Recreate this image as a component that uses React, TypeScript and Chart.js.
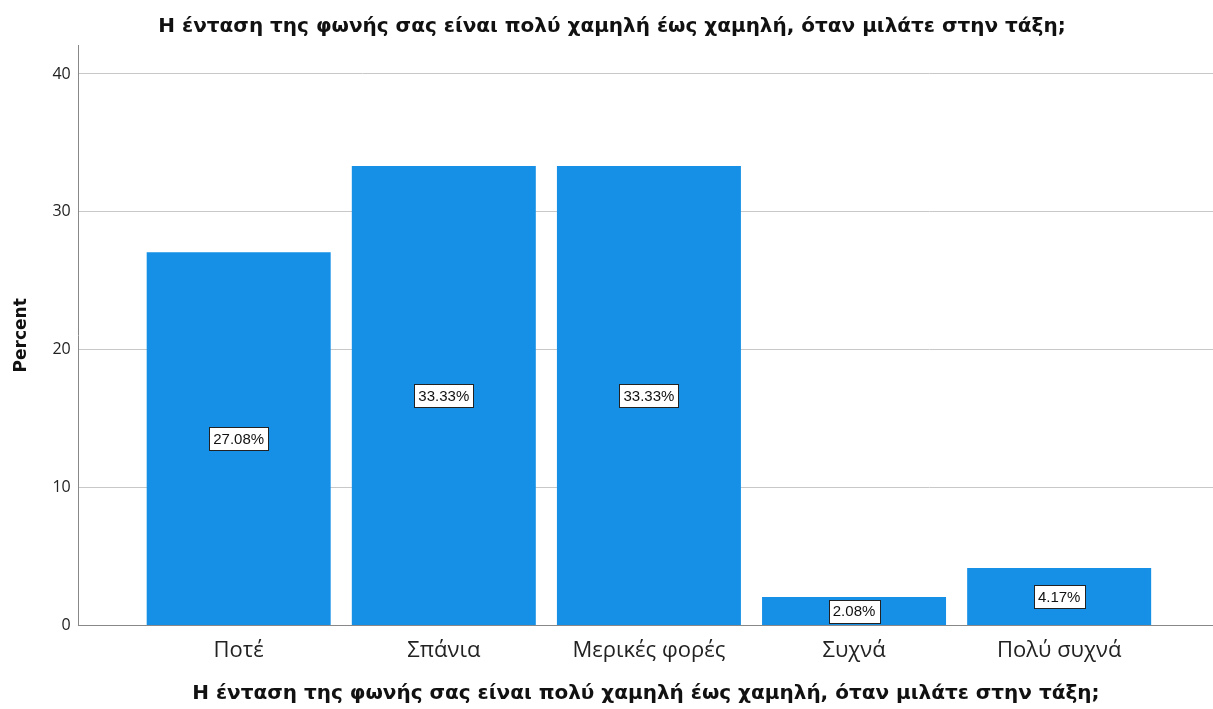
import React, { useEffect, useRef } from "react";
import { Chart, registerables } from "chart.js";

Chart.register(...registerables);

const categories = ["Ποτέ", "Σπάνια", "Μερικές φορές", "Συχνά", "Πολύ συχνά"];
const percents = [27.08, 33.33, 33.33, 2.08, 4.17];
const yTicks = [0, 10, 20, 30, 40];
const titleText = "Η ένταση της φωνής σας είναι πολύ χαμηλή έως χαμηλή, όταν μιλάτε στην τάξη;";

const BOLD = "'DejaVu Sans', Verdana, sans-serif";
const REG = "'Open Sans', 'Noto Sans', sans-serif";
const LAB = "'Liberation Sans', Arial, sans-serif";

const labelPlugin = {
  id: "barLabels",
  afterDatasetsDraw(chart: any) {
    const ctx = chart.ctx;
    const meta = chart.getDatasetMeta(0);
    ctx.save();
    ctx.font = `15px ${LAB}`;
    ctx.textAlign = "center";
    ctx.textBaseline = "middle";
    meta.data.forEach((bar: any, i: number) => {
      const txt = percents[i].toFixed(2) + "%";
      const cx = bar.x;
      const cy = (bar.y + bar.base) / 2;
      const w = Math.round(ctx.measureText(txt).width + 8);
      const h = 23;
      const x0 = Math.round(cx - w / 2);
      const y0 = Math.round(cy - h / 2);
      ctx.fillStyle = "#ffffff";
      ctx.fillRect(x0, y0, w, h);
      ctx.strokeStyle = "#222222";
      ctx.lineWidth = 1;
      ctx.strokeRect(x0 + 0.5, y0 + 0.5, w, h);
      ctx.fillStyle = "#111111";
      ctx.fillText(txt, cx, cy + 1);
    });
    ctx.restore();
  },
};

export default function App() {
  const ref = useRef<HTMLCanvasElement>(null);
  useEffect(() => {
    document.body.style.margin = "0";
    const chart = new Chart(ref.current!, {
      type: "bar",
      data: {
        datasets: [
          {
            data: percents.map((v, i) => ({ x: i, y: v })),
            backgroundColor: "#1590e6",
            borderWidth: 0,
            barPercentage: 0.897,
            categoryPercentage: 1,
          },
        ],
      },
      plugins: [labelPlugin],
      options: {
        animation: false,
        responsive: false,
        layout: { padding: { left: 11, right: 0, top: 4, bottom: 3 } },
        plugins: {
          legend: { display: false },
          tooltip: { enabled: false },
          title: {
            display: true,
            text: titleText,
            color: "#111111",
            font: { family: BOLD, size: 20, weight: "bold" },
            padding: { top: 11, bottom: 6 },
          },
        },
        scales: {
          x: {
            type: "linear",
            offset: false,
            min: -0.78,
            max: 4.75,
            afterBuildTicks: (scale: any) => {
              scale.ticks = categories.map((_, i) => ({ value: i }));
            },
            ticks: {
              autoSkip: false,
              maxRotation: 0,
              color: "#222222",
              font: { family: REG, size: 22 },
              padding: 12,
              callback: (v: any) => categories[v as number] ?? "",
            },
            grid: { display: false, drawTicks: false, offset: false },
            border: { display: true, color: "#888888", width: 1 },
            title: {
              display: true,
              text: titleText,
              color: "#111111",
              font: { family: BOLD, size: 20, weight: "bold" },
              padding: { top: 6, bottom: 0 },
            },
          },
          y: {
            min: 0,
            max: 42.1,
            afterBuildTicks: (scale: any) => {
              scale.ticks = yTicks.map((v) => ({ value: v }));
            },
            ticks: {
              color: "#222222",
              font: { family: REG, size: 16 },
              padding: 8,
            },
            grid: { color: "#c8c8c8", drawTicks: false, lineWidth: 1 },
            border: { display: true, color: "#888888", width: 1 },
            title: {
              display: true,
              text: "Percent",
              color: "#111111",
              font: { family: BOLD, size: 17, weight: "bold" },
              padding: { top: 0, bottom: 13 },
            },
          },
        },
      },
    } as any);
    return () => chart.destroy();
  }, []);
  return <canvas ref={ref} width={1213} height={709} style={{ display: "block" }} />;
}
